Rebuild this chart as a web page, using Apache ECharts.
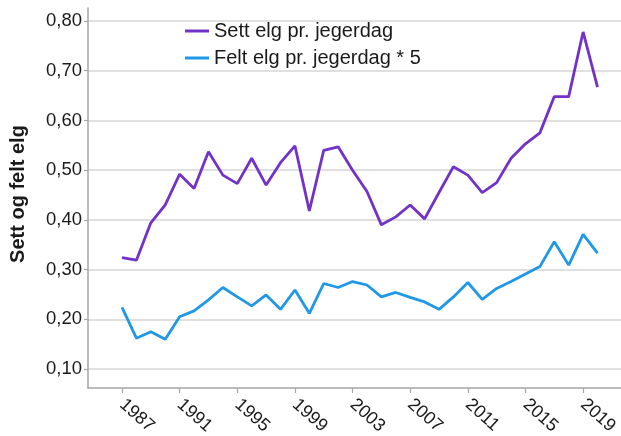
<!DOCTYPE html>
<html>
<head>
<meta charset="utf-8">
<script src="https://cdn.jsdelivr.net/npm/echarts@6/dist/echarts.min.js"></script>
<style>
html,body{margin:0;padding:0;background:#fff;}
#chart{width:621px;height:436px;}
</style>
</head>
<body>
<div id="chart"></div>
<script>
const years = [1987,1988,1989,1990,1991,1992,1993,1994,1995,1996,1997,1998,1999,2000,2001,2002,2003,2004,2005,2006,2007,2008,2009,2010,2011,2012,2013,2014,2015,2016,2017,2018,2019,2020];
const settElg = [0.324,0.319,0.394,0.430,0.492,0.463,0.537,0.490,0.473,0.524,0.470,0.515,0.549,0.418,0.540,0.547,0.500,0.457,0.390,0.406,0.430,0.402,0.455,0.507,0.490,0.455,0.475,0.524,0.553,0.575,0.648,0.648,0.778,0.667];
const feltElg5 = [0.224,0.162,0.175,0.160,0.205,0.217,0.239,0.264,0.245,0.227,0.249,0.220,0.259,0.212,0.272,0.264,0.276,0.269,0.245,0.254,0.244,0.235,0.220,0.245,0.274,0.240,0.262,0.276,0.291,0.306,0.356,0.309,0.371,0.333];
const xTickYears = [1987,1991,1995,1999,2003,2007,2011,2015,2019];
const yTickValues = [0.1,0.2,0.3,0.4,0.5,0.6,0.7,0.8];
const seriesNames = ['Sett elg pr. jegerdag','Felt elg pr. jegerdag * 5'];
const yAxisTitle = 'Sett og felt elg';

const chart = echarts.init(document.getElementById('chart'), null, {renderer:'canvas'});
const labelFont = 'Liberation Sans';
chart.setOption({
  animation:false,
  backgroundColor:'#fff',
  grid:{left:88, right:0, top:8, bottom:48, containLabel:false, outerBoundsMode:'none'},
  legend:{
    orient:'vertical', left:185, top:20, padding:0, itemWidth:24, itemHeight:3, itemGap:5,
    icon:'rect',
    textStyle:{fontFamily:labelFont, fontSize:20, color:'#1a1a1a', lineHeight:22},
    data:seriesNames
  },
  xAxis:{
    type:'value', min:1984.64, max:2021.63,
    axisLine:{show:true, lineStyle:{color:'#a6a6a6', width:1.5}},
    axisTick:{show:true, length:5, customValues:xTickYears, lineStyle:{color:'#a6a6a6', width:1.2}},
    axisLabel:{customValues:xTickYears, rotate:-42, margin:14, fontFamily:labelFont, fontSize:18, color:'#1a1a1a',
      formatter:v=>String(v)},
    splitLine:{show:false}
  },
  yAxis:{
    type:'value', min:0.0618, max:0.8262,
    axisLine:{show:true, lineStyle:{color:'#a6a6a6', width:1.5}},
    axisTick:{show:true, length:4, customValues:yTickValues, lineStyle:{color:'#a6a6a6', width:1.2}},
    axisLabel:{customValues:yTickValues, margin:6, fontFamily:labelFont, fontSize:18.5, color:'#1a1a1a',
      formatter:v=>v.toFixed(2).replace('.',',')},
    splitLine:{show:true, lineStyle:{color:'#d6d6d6', width:1.6}}
  },
  graphic:[{
    type:'text', x:18, y:194, rotation:Math.PI/2,
    style:{text:yAxisTitle, font:'bold 20px "Liberation Sans"', fill:'#1a1a1a', textAlign:'center', textVerticalAlign:'middle'}
  }],
  series:[
    {name:seriesNames[0], type:'line', data:years.map((y,i)=>[y,settElg[i]]), showSymbol:false, symbol:'none',
     lineStyle:{color:'#7232c8', width:2.8}, itemStyle:{color:'#7232c8'}},
    {name:seriesNames[1], type:'line', data:years.map((y,i)=>[y,feltElg5[i]]), showSymbol:false, symbol:'none',
     lineStyle:{color:'#1f98e6', width:2.8}, itemStyle:{color:'#1f98e6'}}
  ]
});
</script>
</body>
</html>
